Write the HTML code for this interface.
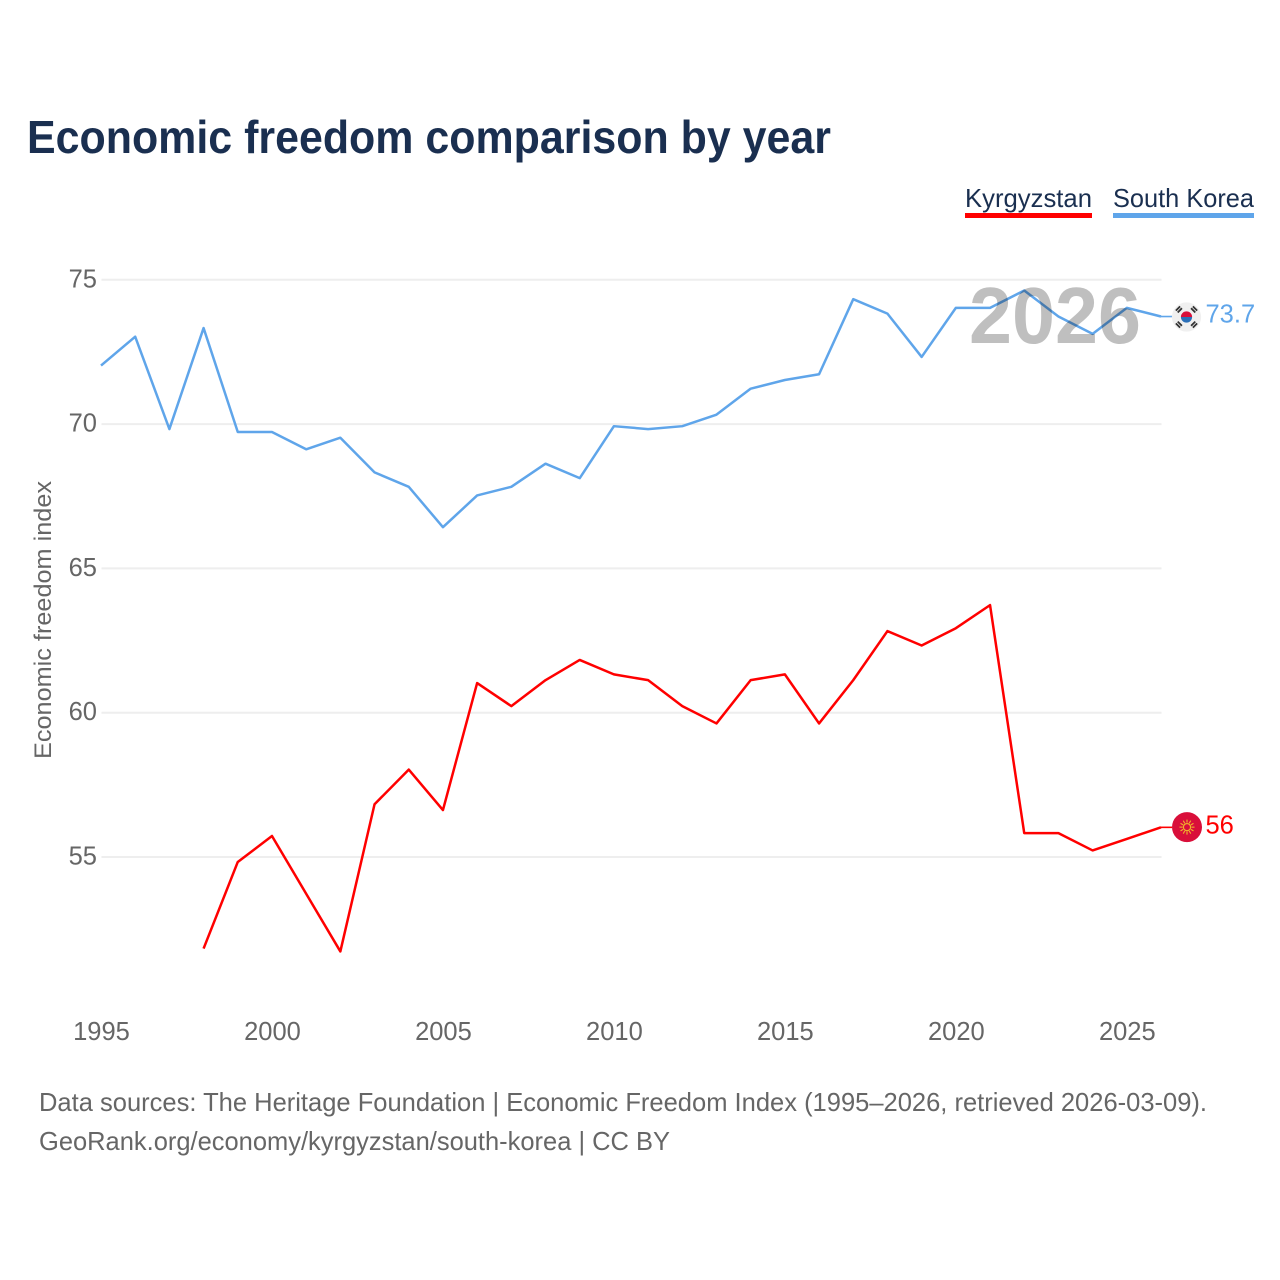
<!DOCTYPE html>
<html lang="en">
<head>
<meta charset="utf-8">
<title>Economic freedom comparison by year</title>
<style>
html,body{margin:0;padding:0;background:#fff;}
svg{display:block;font-family:"Liberation Sans",sans-serif;}
</style>
</head>
<body>
<svg id="chart" xmlns="http://www.w3.org/2000/svg" width="1280" height="1280" viewBox="0 0 1280 1280">
  <rect width="1280" height="1280" fill="#fff"/>
  <text x="27" y="153" font-size="46" font-weight="700" fill="#1a2f50" textLength="804" lengthAdjust="spacingAndGlyphs">Economic freedom comparison by year</text>

  <g id="grid"></g>
  <g id="yticks"></g>
  <g id="xticks"></g>
  <text transform="translate(51,620) rotate(-90)" text-anchor="middle" font-size="24.5" fill="#666" textLength="278" lengthAdjust="spacingAndGlyphs">Economic freedom index</text>

  <g id="series"></g>

  <text x="969" y="343" font-size="80" font-weight="700" fill="#000" fill-opacity="0.25" textLength="172" lengthAdjust="spacingAndGlyphs">2026</text>

  <g>
    <text x="965" y="207" font-size="26" fill="#1a2f50" textLength="127" lengthAdjust="spacingAndGlyphs">Kyrgyzstan</text>
    <rect x="965" y="213" width="127" height="5" fill="#ff0000"/>
  </g>
  <g>
    <text x="1113" y="207" font-size="26" fill="#1a2f50" textLength="141" lengthAdjust="spacingAndGlyphs">South Korea</text>
    <rect x="1113" y="213" width="141" height="5" fill="#5fa5ea"/>
  </g>

  <text x="39" y="1111" font-size="26" fill="#666" textLength="1168" lengthAdjust="spacingAndGlyphs">Data sources: The Heritage Foundation | Economic Freedom Index (1995–2026, retrieved 2026-03-09).</text>
  <text x="39" y="1150" font-size="26" fill="#666" textLength="631" lengthAdjust="spacingAndGlyphs">GeoRank.org/economy/kyrgyzstan/south-korea | CC BY</text>
</svg>
<script>
const years = [1995,1996,1997,1998,1999,2000,2001,2002,2003,2004,2005,2006,2007,2008,2009,2010,2011,2012,2013,2014,2015,2016,2017,2018,2019,2020,2021,2022,2023,2024,2025,2026];
const southKorea = [72.0,73.0,69.8,73.3,69.7,69.7,69.1,69.5,68.3,67.8,66.4,67.5,67.8,68.6,68.1,69.9,69.8,69.9,70.3,71.2,71.5,71.7,74.3,73.8,72.3,74.0,74.0,74.6,73.7,73.1,74.0,73.7];
const kyrgyzstan = [null,null,null,51.8,54.8,55.7,53.7,51.7,56.8,58.0,56.6,61.0,60.2,61.1,61.8,61.3,61.1,60.2,59.6,61.1,61.3,59.6,61.1,62.8,62.3,62.9,63.7,55.8,55.8,55.2,55.6,56.0];
const yTicks = [55,60,65,70,75];
const xTicks = [1995,2000,2005,2010,2015,2020,2025];

const NS = 'http://www.w3.org/2000/svg';
function xScale(year){ return 101 + (year - 1995) * (1161 - 101) / (2026 - 1995); }
function yScale(v){ return 856.2 + (v - 55) * (279 - 856.2) / (75 - 55); }
function make(tag, attrs, parent){
  const el = document.createElementNS(NS, tag);
  for (const k in attrs) el.setAttribute(k, attrs[k]);
  parent.appendChild(el);
  return el;
}
const gridG = document.getElementById('grid');
const yG = document.getElementById('yticks');
const xG = document.getElementById('xticks');
const seriesG = document.getElementById('series');
const root = document.getElementById('chart');

yTicks.forEach(function(t){
  const line = make('line', {x1:101.5, x2:1161.5, y1:yScale(t) + 0.8, y2:yScale(t) + 0.8, stroke:'#eeeeee', 'stroke-width':2}, gridG);
  
  
  const label = make('text', {x:97, y:yScale(t) + 8.3, 'text-anchor':'end', 'font-size':25.5, fill:'#666'}, yG);
  label.textContent = String(t);
  
  
});
xTicks.forEach(function(t){
  const label = make('text', {x:xScale(t) + 0.5, y:1040, 'text-anchor':'middle', 'font-size':25.5, fill:'#666'}, xG);
  label.textContent = String(t);
  
  
});

function drawSeries(values, color, key){
  let pts = [];
  let last = null;
  values.forEach(function(v, i){
    if (v === null) return;
    pts.push(xScale(years[i]).toFixed(2) + ',' + yScale(v).toFixed(2));
    last = v;
  });
  const line = make('polyline', {points:pts.join(' '), fill:'none', stroke:color, 'stroke-width':2.5, 'stroke-linejoin':'round'}, seriesG);
  
  
  const yEnd = yScale(last);
  const leader = make('line', {x1:xScale(2026), x2:1172, y1:yEnd, y2:yEnd, stroke:color, 'stroke-width':1.6}, seriesG);
  
  
  const label = make('text', {x:1205.5, y:yEnd + 6.2, 'font-size':25.5, fill:color}, seriesG);
  label.textContent = String(last);
  
  
  return yEnd;
}
const krY = drawSeries(southKorea, '#5fa5ea', 'south-korea');
const kgY = drawSeries(kyrgyzstan, '#ff0000', 'kyrgyzstan');

// South Korea flag marker
const krFlag = make('g', {transform:'translate(1186.5,' + (krY + 0.5) + ')'}, root);


make('circle', {r:14.6, fill:'#f0f0f0'}, krFlag);
make('path', {d:'M-5.6,0 A5.6,5.6 0 0 1 5.6,0 Z', fill:'#d80f3a'}, krFlag);
make('path', {d:'M-5.6,0 A5.6,5.6 0 0 0 5.6,0 Z', fill:'#2a6fb8'}, krFlag);
[[-1,-1],[1,-1],[-1,1],[1,1]].forEach(function(q){
  const a = q[0] * q[1] > 0 ? -45 : 45;
  const pos = 'translate(' + (q[0]*7.6) + ',' + (q[1]*7.6) + ') rotate(' + a + ')';
  make('rect', {x:-3, y:-2.2, width:6, height:4.4, fill:'#333', transform:pos}, krFlag);
  make('rect', {x:-3.4, y:-0.4, width:6.8, height:0.8, fill:'#f0f0f0', transform:pos}, krFlag);
});

// Kyrgyzstan flag marker
const kgFlag = make('g', {transform:'translate(1187,' + (kgY - 0.2) + ')'}, root);


make('circle', {r:15, fill:'#d90f3a'}, kgFlag);
for (let a = 0; a < 360; a += 30) {
  make('line', {x1:0, y1:-4.5, x2:0, y2:-7.5, stroke:'#f0b52c', 'stroke-width':1.1, transform:'rotate(' + a + ')'}, kgFlag);
}
make('circle', {r:3.6, fill:'none', stroke:'#f0b52c', 'stroke-width':1.2}, kgFlag);
</script>
</body>
</html>
